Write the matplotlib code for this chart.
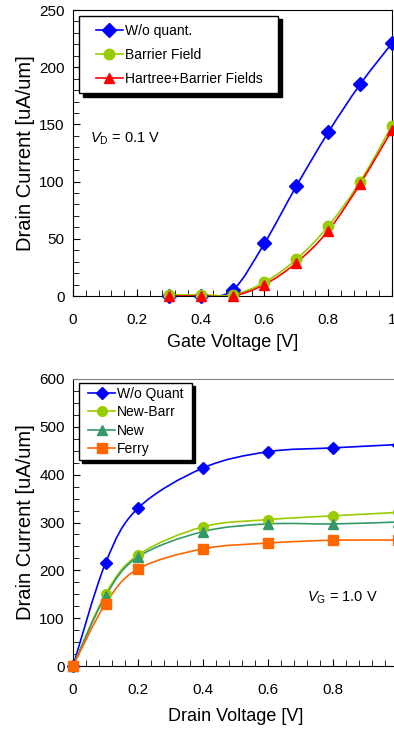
import matplotlib.pyplot as plt
import matplotlib
import numpy as np
from matplotlib.path import Path
from matplotlib.patches import PathPatch
from matplotlib.lines import Line2D
from matplotlib.legend_handler import HandlerLine2D
from matplotlib.ticker import MultipleLocator

plt.rcParams['font.family'] = ['Liberation Sans', 'DejaVu Sans']
plt.rcParams['mathtext.fontset'] = 'custom'
plt.rcParams['mathtext.rm'] = 'Liberation Sans'
plt.rcParams['mathtext.it'] = 'Liberation Sans:italic'

# top panel: drain current vs gate voltage (VD = 0.1 V)
vg = [0.3, 0.4, 0.5, 0.6, 0.7, 0.8, 0.9, 1.0]
id_noquant = [0, 0, 5, 46, 96, 143, 185, 221]
id_barrier = [1, 1, 1, 12, 32, 61, 100, 149]
id_hartree = [0, 0, 0, 10, 29, 57, 98, 145]

# bottom panel: drain current vs drain voltage (VG = 1.0 V)
vd = [0, 0.1, 0.2, 0.4, 0.6, 0.8, 1.0]
idd_noquant = [0, 215, 330, 414, 448, 456, 463]
idd_newbarr = [0, 150, 232, 291, 306, 314, 321]
idd_new = [0, 146, 228, 281, 297, 297, 301]
idd_ferry = [0, 130, 203, 245, 257, 263, 263]

W, H = 394, 729


def smooth_path(x, y):
    # Excel-like smoothed line: Catmull-Rom segments as cubic Bezier
    x = np.asarray(x, float)
    y = np.asarray(y, float)
    n = len(x)
    verts = [(x[0], y[0])]
    codes = [Path.MOVETO]
    for i in range(n - 1):
        x0, y0 = (x[i - 1], y[i - 1]) if i > 0 else (x[i], y[i])
        x3, y3 = (x[i + 2], y[i + 2]) if i + 2 < n else (x[i + 1], y[i + 1])
        c1 = (x[i] + (x[i + 1] - x0) / 6, y[i] + (y[i + 1] - y0) / 6)
        c2 = (x[i + 1] - (x3 - x[i]) / 6, y[i + 1] - (y3 - y[i]) / 6)
        verts += [c1, c2, (x[i + 1], y[i + 1])]
        codes += [Path.CURVE4] * 3
    return Path(verts, codes)


def series(ax, x, y, color, marker, ms, label):
    ax.add_patch(PathPatch(smooth_path(x, y), facecolor='none', edgecolor=color,
                           lw=1.2, transform=ax.transData, zorder=2))
    ax.plot(x, y, ls='none', marker=marker, ms=ms, color=color,
            clip_on=False, zorder=3)
    return Line2D([], [], color=color, lw=1.2, marker=marker, ms=ms, label=label)


def style(ax, ymax, ymaj, ymin, last_label=True):
    ax.set_xlim(0, 1)
    ax.set_ylim(0, ymax)
    ax.xaxis.set_major_locator(MultipleLocator(0.2))
    ax.xaxis.set_minor_locator(MultipleLocator(0.04))
    ax.yaxis.set_major_locator(MultipleLocator(ymaj))
    ax.yaxis.set_minor_locator(MultipleLocator(ymin))
    ax.tick_params(which='both', direction='in', labelsize=11, top=False, right=False)
    ax.tick_params(which='major', length=5)
    ax.tick_params(which='minor', length=4)
    ax.tick_params(axis='x', pad=12)
    ax.tick_params(axis='y', pad=6)

    def fmt(v, p):
        if not last_label and v > 0.99:
            return ''
        return '%g' % round(v, 2)
    ax.xaxis.set_major_formatter(matplotlib.ticker.FuncFormatter(fmt))


fig = plt.figure(figsize=(W / 100, H / 100), dpi=100)

# top panel
ax1 = fig.add_axes([73 / W, 1 - 296 / H, 319 / W, 286 / H])
style(ax1, 250, 50, 10)
h1 = [series(ax1, vg, id_noquant, '#0000FF', 'D', 7, 'W/o quant.'),
      series(ax1, vg, id_barrier, '#99CC00', 'o', 7.5, 'Barrier Field'),
      series(ax1, vg, id_hartree, '#FF0000', '^', 7.5, 'Hartree+Barrier Fields  ')]
ax1.set_xlabel('Gate Voltage [V]', fontsize=13, labelpad=5)
ax1.set_ylabel('Drain Current [uA/um]', fontsize=14.5, labelpad=3)
ax1.text(0.053, 137, r'$V_\mathrm{D}$ = 0.1 V', fontsize=10.5, va='center')
leg = ax1.legend(handles=h1, loc='upper left', bbox_to_anchor=(0.019, 0.979),
                 borderaxespad=0, fontsize=10, handlelength=2.6, handletextpad=0.15,
                 labelspacing=0.72, borderpad=0.55, fancybox=False, edgecolor='black',
                 handler_map={Line2D: HandlerLine2D(xpad=0.65)},
                 shadow={'color': 'black', 'alpha': 1, 'ox': 2.5, 'oy': -2.5})
leg.get_frame().set_linewidth(1.0)

# bottom panel
ax2 = fig.add_axes([73 / W, 1 - 666 / H, 325 / W, 287 / H])
style(ax2, 600, 100, 25, last_label=False)
ax2.spines['top'].set_color('#808080')
h2 = [series(ax2, vd, idd_noquant, '#0000FF', 'D', 6, 'W/o Quant '),
      series(ax2, vd, idd_newbarr, '#99CC00', 'o', 7, 'New-Barr'),
      series(ax2, vd, idd_new, '#339966', '^', 6.5, 'New'),
      series(ax2, vd, idd_ferry, '#FF6600', 's', 6.5, 'Ferry')]
ax2.set_xlabel('Drain Voltage [V]', fontsize=13, labelpad=8)
ax2.set_ylabel('Drain Current [uA/um]', fontsize=14.5, labelpad=3)
ax2.text(0.72, 142, r'$V_\mathrm{G}$ = 1.0 V', fontsize=10.5, va='center')
leg2 = ax2.legend(handles=h2, loc='upper left', bbox_to_anchor=(0.0185, 0.986),
                  borderaxespad=0, fontsize=10, handlelength=2.3, handletextpad=0.15,
                  labelspacing=0.3, borderpad=0.3, fancybox=False, edgecolor='black',
                  handler_map={Line2D: HandlerLine2D(xpad=0.36)},
                  shadow={'color': 'black', 'alpha': 1, 'ox': 2.5, 'oy': -2.5})
leg2.get_frame().set_linewidth(1.0)

fig.savefig('out.png', dpi=100)
